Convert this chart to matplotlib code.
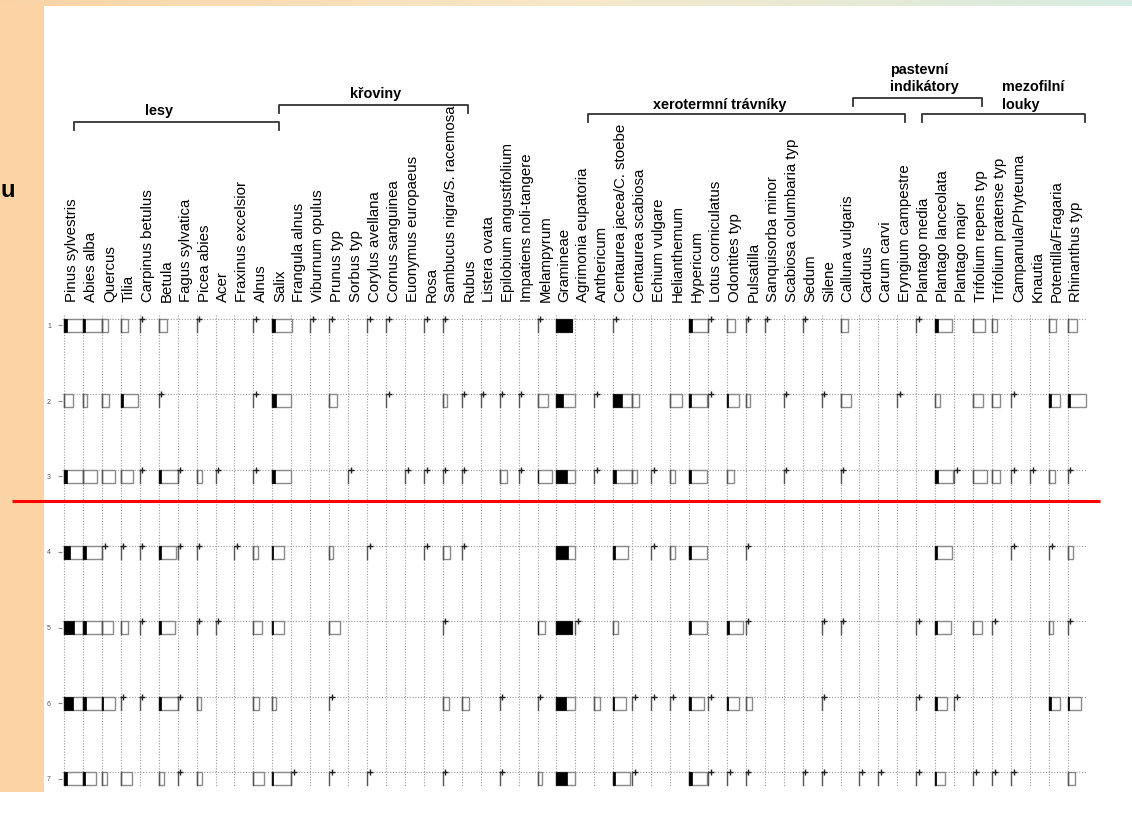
import matplotlib
matplotlib.use("Agg")
import matplotlib.pyplot as plt
from matplotlib.patches import Rectangle
import numpy as np

plt.rcParams['font.family'] = ['Liberation Sans', 'DejaVu Sans']

# ---------------- data ----------------
taxa = [
    "Pinus sylvestris", "Abies alba", "Quercus", "Tilia", "Carpinus betulus",
    "Betula", "Fagus sylvatica", "Picea abies", "Acer", "Fraxinus excelsior",
    "Alnus", "Salix", "Frangula alnus", "Viburnum opulus", "Prunus typ",
    "Sorbus typ", "Corylus avellana", "Cornus sanguinea", "Euonymus europaeus", "Rosa",
    "Sambucus nigra/S. racemosa", "Rubus", "Listera ovata", "Epilobium angustifolium",
    "Impatiens noli-tangere", "Melampyrum", "Gramineae", "Agrimonia eupatoria",
    "Anthericum", "Centaurea jacea/C. stoebe", "Centaurea scabiosa", "Echium vulgare",
    "Helianthemum", "Hypericum", "Lotus corniculatus", "Odontites typ", "Pulsatilla",
    "Sanquisorba minor", "Scabiosa columbaria typ", "Sedum", "Silene", "Calluna vulgaris",
    "Carduus", "Carum carvi", "Eryngium campestre", "Plantago media", "Plantago lanceolata",
    "Plantago major", "Trifolium repens typ", "Trifolium pratense typ", "Campanula/Phyteuma",
    "Knautia", "Potentilla/Fragaria", "Rhinanthus typ",
]
samples = ["1", "2", "3", "4", "5", "6", "7"]

# groups: (label lines, first taxon, last taxon)
groups = [
    (["lesy"], "Pinus sylvestris", "Salix"),
    (["křoviny"], "Salix", "Rubus"),
    (["xerotermní trávníky"], "Agrimonia eupatoria", "Eryngium campestre"),
    (["pastevní", "indikátory"], "Calluna vulgaris", "Trifolium repens typ"),
    (["mezofilní", "louky"], "Plantago media", "Rhinanthus typ"),
]

_ = None   # taxon absent; 0 = present only as trace (+)
# exaggerated curve (outline), % scale where one column = 10
s1_exag = [10.0, 10.0, 3.2, 3.7, 0, 4.2, _, 0, _, _,
           0, 10.6, _, 0, 0, _, 0, 0, _, 0,
           0, _, _, _, _, 0, 8.4, _, _, 0,
           _, _, _, 10.0, 0, 4.2, 0, 0, _, 0,
           _, 3.7, _, _, _, 0, 9.0, _, 6.3, 2.6,
           _, _, 3.7, 4.8]
s2_exag = [4.8, 2.1, 3.7, 9.0, _, 0, _, _, _, _,
           0, 10.0, _, _, 4.2, _, _, 0, _, _,
           2.1, 0, 0, 0, 0, 5.3, 10.0, _, 0, 10.0,
           3.7, _, 6.3, 9.5, 0, 6.3, 2.1, _, 0, _,
           0, 5.3, _, _, 0, _, 2.6, _, 5.3, 4.2,
           0, _, 5.8, 9.5]
s3_exag = [10.0, 7.4, 6.9, 6.3, 0, 10.0, 0, 2.6, 0, _,
           0, 10.0, _, _, _, 0, _, _, 0, 0,
           0, 0, _, 3.7, 0, 7.4, 10.0, _, 0, 10.0,
           2.6, 0, 2.6, 9.5, _, 3.7, _, _, 0, _,
           _, 0, _, _, _, _, 9.5, 0, 7.4, 4.2,
           0, 0, 3.2, 0]
s4_exag = [10.0, 10.0, 0, 0, 0, 9.0, 0, 0, _, 0,
           2.6, 6.3, _, _, 2.1, _, 0, _, _, 0,
           3.7, 0, _, _, _, _, 10.0, _, _, 7.9,
           _, 0, 2.6, 9.5, _, _, 0, _, _, _,
           _, _, _, _, _, _, 9.0, _, _, _,
           0, _, 0, 2.6]
s5_exag = [10.0, 10.0, 5.8, 3.7, 0, 8.4, _, 0, 0, _,
           4.8, 6.3, _, _, 5.8, _, _, _, _, _,
           0, _, _, _, _, 3.7, 8.4, 0, _, 2.6,
           _, _, _, 9.5, _, 8.4, 0, _, _, _,
           0, 0, _, _, _, 0, 8.4, _, 4.8, 0,
           _, _, 2.1, 0]
s6_exag = [10.0, 10.0, 6.9, 0, 0, 10.0, 0, 2.1, _, _,
           3.2, 2.1, _, _, 0, _, _, _, _, _,
           3.2, 3.7, _, 0, _, 0, 10.0, _, 3.2, 6.9,
           0, 0, 0, 7.9, 0, 6.3, 3.2, _, _, _,
           0, _, _, _, _, 0, 6.3, 0, _, _,
           _, _, 5.8, 6.9]
s7_exag = [10.0, 6.9, 2.6, 5.8, _, 2.6, 0, 2.6, _, _,
           5.8, 10.0, 0, _, 0, _, 0, _, _, _,
           0, _, _, 0, _, 2.6, 10.0, _, _, 9.0,
           0, _, _, 9.5, 0, 0, 0, _, _, 0,
           0, _, 0, 0, _, 0, 5.3, _, 0, 0,
           0, _, _, 3.7]

# real percentages (black bars)
s1_pct = [1.6, 1.3, 0, 0, 0, 0, 0, 0, 0, 0,
          0, 1.6, 0, 0, 0, 0, 0, 0, 0, 0,
          0, 0, 0, 0, 0, 0, 8.4, 0, 0, 0,
          0, 0, 0, 1.6, 0, 0, 0, 0, 0, 0,
          0, 0, 0, 0, 0, 0, 1.6, 0, 0, 0,
          0, 0, 0, 0]
s2_pct = [0, 0, 0, 1.1, 0, 0, 0, 0, 0, 0,
          0, 2.1, 0, 0, 0, 0, 0, 0, 0, 0,
          0, 0, 0, 0, 0, 0, 3.2, 0, 0, 4.8,
          0, 0, 0, 1.1, 0, 0.5, 0, 0, 0, 0,
          0, 0, 0, 0, 0, 0, 0, 0, 0, 0,
          0, 0, 1.1, 1.1]
s3_pct = [1.6, 0, 0, 0, 0, 1.1, 0, 0, 0, 0,
          0, 1.6, 0, 0, 0, 0, 0, 0, 0, 0,
          0, 0, 0, 0, 0, 0.5, 5.8, 0, 0, 1.6,
          0, 0, 0, 1.1, 0, 0, 0, 0, 0, 0,
          0, 0, 0, 0, 0, 0, 1.6, 0, 0, 0,
          0, 0, 0, 0]
s4_pct = [3.2, 1.6, 0, 0, 0, 1.1, 0, 0, 0, 0,
          0, 0.5, 0, 0, 0, 0, 0, 0, 0, 0,
          0, 0, 0, 0, 0, 0, 6.3, 0, 0, 1.1,
          0, 0, 0, 1.1, 0, 0, 0, 0, 0, 0,
          0, 0, 0, 0, 0, 0, 1.1, 0, 0, 0,
          0, 0, 0, 0]
s5_pct = [5.3, 1.6, 0, 0, 0, 1.1, 0, 0, 0, 0,
          0, 0.5, 0, 0, 0, 0, 0, 0, 0, 0,
          0, 0, 0, 0, 0, 0.5, 8.4, 0, 0, 0,
          0, 0, 0, 1.1, 0, 1.1, 0, 0, 0, 0,
          0, 0, 0, 0, 0, 0, 1.1, 0, 0, 0,
          0, 0, 0, 0]
s6_pct = [4.8, 1.6, 0.5, 0, 0, 1.1, 0, 0, 0, 0,
          0, 0, 0, 0, 0, 0, 0, 0, 0, 0,
          0, 0, 0, 0, 0, 0, 4.8, 0, 0, 0.5,
          0, 0, 0, 1.1, 0, 0.5, 0, 0, 0, 0,
          0, 0, 0, 0, 0, 0, 1.1, 0, 0, 0,
          0, 0, 1.1, 0.5]
s7_pct = [1.6, 1.1, 0, 0, 0, 0, 0, 0, 0, 0,
          0, 0.5, 0, 0, 0, 0, 0, 0, 0, 0,
          0, 0, 0, 0, 0, 0, 5.8, 0, 0, 1.1,
          0, 0, 0, 1.6, 0, 0, 0, 0, 0, 0,
          0, 0, 0, 0, 0, 0, 0.5, 0, 0, 0,
          0, 0, 0, 0]

exag_rows = [s1_exag, s2_exag, s3_exag, s4_exag, s5_exag, s6_exag, s7_exag]
pct_rows = [s1_pct, s2_pct, s3_pct, s4_pct, s5_pct, s6_pct, s7_pct]

# ---------------- layout ----------------
W, H = 1132, 821
X0, DX = 64.0, 18.94      # pixel x of first column, column spacing
Y0, DY = 319.0, 75.5      # pixel y of first sample, sample spacing
COL = 10.0                # % per column width
BH = 13.0 / DY            # bar height in sample units
PEACH = "#FBD3A5"

def colpx(c):
    return X0 + DX * c

def rowval(py):
    return 1 + (py - Y0) / DY

fig = plt.figure(figsize=(W / 100, H / 100), dpi=100)
fig.patch.set_facecolor("white")

# background decoration (pixel coordinates)
bg = fig.add_axes([0, 0, 1, 1])
bg.set_xlim(0, W)
bg.set_ylim(H, 0)
bg.axis("off")
bg.add_patch(Rectangle((0, 0), 44, 792, facecolor=PEACH, edgecolor="none"))
grad = np.linspace(0, 1, 400)
c_left = np.array([251, 211, 165]) / 255
c_mid = np.array([246, 232, 200]) / 255
c_right = np.array([214, 236, 226]) / 255
cols = np.where(grad[:, None] < 0.5,
                c_left + (c_mid - c_left) * (grad[:, None] / 0.5),
                c_mid + (c_right - c_mid) * ((grad[:, None] - 0.5) / 0.5))
bg.imshow(cols[None, :, :], extent=(0, W, 6, 0), aspect="auto", zorder=1)
bg.set_xlim(0, W)
bg.set_ylim(H, 0)
bg.text(1, 197, "u", fontsize=17, fontweight="bold", ha="left", va="baseline",
        color="black")

# main diagram axes
ax_left, ax_right, ax_top, ax_bot = 62, W, 300, 800
ax = fig.add_axes([ax_left / W, (H - ax_bot) / H, (ax_right - ax_left) / W,
                   (ax_bot - ax_top) / H])
ax.patch.set_alpha(0)
ax.set_xlim((ax_left - X0) / DX, (ax_right - X0) / DX)
ax.set_ylim(rowval(ax_bot), rowval(ax_top))
for s in ax.spines.values():
    s.set_visible(False)
ax.set_xticks([])

n_t = len(taxa)
n_s = len(samples)
grid_kw = dict(color="#9a9a9a", lw=0.8, linestyle=(0, (1, 1.5)), zorder=1)
for c in range(n_t):
    ax.plot([c, c], [rowval(315), rowval(787)], **grid_kw)
for r in range(1, n_s + 1):
    ax.plot([-0.1, (1087 - X0) / DX], [r, r], **grid_kw)

for r, (ex_row, pc_row) in enumerate(zip(exag_rows, pct_rows), start=1):
    for c in range(n_t):
        e = ex_row[c]
        b = pc_row[c]
        if e is None:
            continue
        if e == 0:
            ax.plot([c, c], [r, r + BH], color="#555555", lw=1.0, zorder=3)
            ax.plot(c + 0.14, r, marker="+", ms=4, mew=1.0, color="#222222", zorder=4)
            continue
        w = max(e, b) / COL
        ax.add_patch(Rectangle((c, r), w, BH, facecolor="none", edgecolor="#8a8a8a",
                               lw=1.0, zorder=3))
        ax.plot([c, c], [r, r + BH], color="#555555", lw=1.0, zorder=3)
        if b > 0:
            ax.add_patch(Rectangle((c, r), b / COL, BH, facecolor="black",
                                   edgecolor="black", lw=0.5, zorder=4))

ax.set_yticks([r + BH / 2 for r in range(1, n_s + 1)])
ax.set_yticklabels(samples, fontsize=5, color="#555555")
ax.tick_params(axis="y", length=3, width=0.8, color="#888888", pad=5)

# taxon labels
for c, name in enumerate(taxa):
    ax.text(c + 0.05, rowval(302), name, rotation=90, ha="left", va="bottom",
            fontsize=10.8, color="black", clip_on=False)

# group brackets (pixel overlay)
ov = fig.add_axes([0, 0, 1, 1])
ov.patch.set_alpha(0)
ov.set_xlim(0, W)
ov.set_ylim(H, 0)
ov.axis("off")

bracket_offsets = [(0.53, 0.37), (0.37, 0.33), (0.67, 0.4), (0.66, 0.47), (0.3, 0.9)]
bracket_y = [122, 105, 114, 98, 114]
label_pos = [(159, [111], "center"), (376, [94], "center"), (720, [105], "center"),
             (890, [70, 87], "left"), (1002, [87, 105], "left")]
for (lines, t0, t1), (o0, o1), by, (lx, lys, lha) in zip(groups, bracket_offsets,
                                                       bracket_y, label_pos):
    xa = colpx(taxa.index(t0) + o0)
    xb = colpx(taxa.index(t1) + o1)
    ov.plot([xa, xa, xb, xb], [by + 8, by, by, by + 8], color="#333333", lw=1.3)
    for txt, ly in zip(lines, lys):
        ov.text(lx, ly, txt, ha=lha, va="center", fontsize=10.4, fontweight="bold")

# red divider
ov.plot([12, 1100], [501, 501], color="#ff0000", lw=2.2, solid_capstyle="butt")

fig.savefig("out.png", dpi=100, facecolor="white")
